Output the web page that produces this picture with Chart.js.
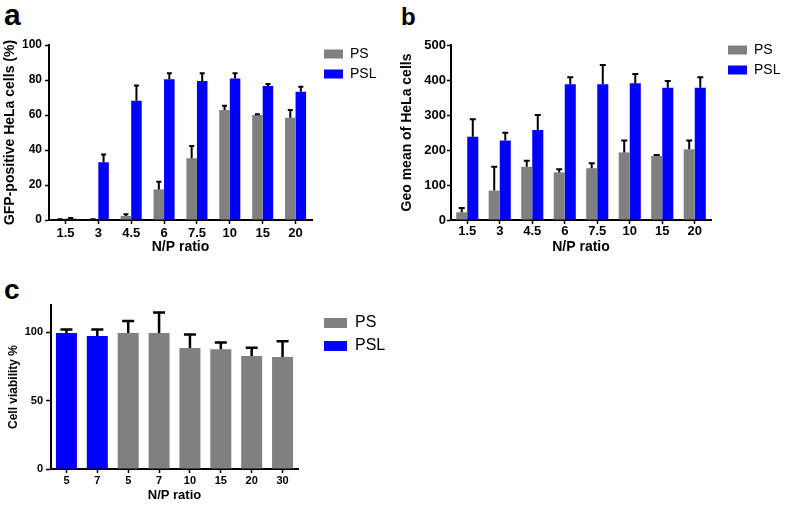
<!DOCTYPE html>
<html>
<head>
<meta charset="utf-8">
<script src="https://cdn.jsdelivr.net/npm/chart.js@4.4.1/dist/chart.umd.min.js"></script>
<style>
  body { margin: 0; background: #fff; }
  #page { position: relative; width: 787px; height: 511px; overflow: hidden; }
  canvas { position: absolute; }
  .tag { position: absolute; font-family: "Liberation Sans", Arial, sans-serif; font-weight: bold; color: #000; }
</style>
</head>
<body>
<div id="page">
  <div class="tag" style="left:4px;top:0px;font-size:30px;line-height:30px;">a</div>
  <div class="tag" style="left:401px;top:5px;font-size:24px;line-height:24px;">b</div>
  <div class="tag" style="left:4px;top:276px;font-size:28px;line-height:28px;">c</div>
  <canvas id="chartA" width="390" height="260" style="left:0;top:0;"></canvas>
  <canvas id="chartB" width="397" height="260" style="left:390px;top:0;"></canvas>
  <canvas id="chartC" width="420" height="241" style="left:0;top:270px;"></canvas>
</div>
<script>
// ---- data ----
const ratiosAB = ['1.5', '3', '4.5', '6', '7.5', '10', '15', '20'];

// panel a: GFP-positive HeLa cells (%)
const psA = [0.3, 0.3, 2.3, 17.5, 35.3, 62.9, 60, 58.5];
const psAErr = [0.2, 0.2, 1, 4.4, 7, 2.4, 0.5, 4.4];
const pslA = [0.8, 33, 68.2, 80.4, 79.4, 80.8, 76.6, 73.3];
const pslAErr = [0.3, 4.5, 8.6, 3.4, 4.4, 3, 1.1, 2.9];

// panel b: geo mean of HeLa cells
const psB = [22, 84, 152, 136, 148, 193, 183, 202];
const psBErr = [12, 68, 17, 9, 14, 34, 3, 25];
const pslB = [238, 227, 257, 388, 388, 391, 378, 378];
const pslBErr = [50, 22, 43, 20, 55, 26, 19, 30];

// panel c: cell viability (first two bars PSL, rest PS)
const ratiosC = ['5', '7', '5', '7', '10', '15', '20', '30'];
const pslC = [99.5, 97.3, null, null, null, null, null, null];
const pslCErr = [2.5, 4.7, null, null, null, null, null, null];
const psC = [null, null, 99.5, 99.5, 88.5, 87.6, 82.7, 82];
const psCErr = [null, null, 8.8, 15, 10, 5, 6.1, 11.4];

const GRAY = '#808080';
const BLUE = '#0000ff';

Chart.defaults.font.family = '"Liberation Sans", Arial, sans-serif';
Chart.defaults.color = '#000';
Chart.defaults.animation = false;

// upper error bars, drawn from the y scale
const errorBarPlugin = {
    id: 'errorBars',
    afterDatasetsDraw(chart, args, opts) {
        const ctx = chart.ctx;
        const yScale = chart.scales.y;
        ctx.save();
        ctx.strokeStyle = '#000';
        ctx.lineWidth = opts.width;
        chart.data.datasets.forEach((ds, di) => {
            const meta = chart.getDatasetMeta(di);
            if (!ds.errorBars || meta.hidden) return;
            meta.data.forEach((bar, i) => {
                const v = ds.data[i];
                const e = ds.errorBars[i];
                if (v == null || e == null) return;
                const yTop = yScale.getPixelForValue(v + e);
                ctx.beginPath();
                ctx.moveTo(bar.x, bar.y);
                ctx.lineTo(bar.x, yTop);
                ctx.moveTo(bar.x - opts.cap, yTop);
                ctx.lineTo(bar.x + opts.cap, yTop);
                ctx.stroke();
            });
        });
        ctx.restore();
    }
};

// put the legend at a fixed spot outside the plot
const legendSpot = {
    id: 'legendSpot',
    afterLayout(chart, args, opts) {
        const lg = chart.legend;
        if (!lg) return;
        const w = lg.width, h = lg.height;
        lg.left = opts.x;
        lg.top = opts.y;
        lg.right = opts.x + w;
        lg.bottom = opts.y + h;
    }
};

function makeScales(o) {
    return {
        x: {
            offset: true,
            ticks: { font: { size: o.xTickSize, weight: 'bold' }, padding: o.xTickPad, maxRotation: 0, autoSkip: false },
            grid: { offset: false, drawOnChartArea: false, tickLength: 4, tickWidth: 1.5, tickColor: '#000' },
            border: { color: '#000', width: 2 },
            title: { display: true, text: 'N/P ratio', font: { size: o.xTitleSize, weight: 'bold' }, padding: { top: 0, bottom: o.xTitlePad } },
            afterFit: s => { s.height = o.xHeight; }
        },
        y: {
            min: 0,
            max: o.yMax,
            ticks: { stepSize: o.yStep, font: { size: o.yTickSize, weight: 'bold' }, padding: o.yTickPad },
            grid: { drawOnChartArea: false, tickLength: o.yTickLen, tickWidth: 1.5, tickColor: '#000' },
            border: { color: '#000', width: 2 },
            title: { display: true, text: o.yTitle, font: { size: o.yTitleSize, weight: 'bold' }, padding: { top: o.yTitlePad, bottom: 0 } },
            afterBuildTicks: s => { s.ticks = s.ticks.filter(t => t.value % o.yStep === 0); },
            afterFit: s => { s.width = o.yWidth; }
        }
    };
}

function legendOpts(boxW, boxH, pad, size) {
    return {
        position: 'chartArea',
        align: 'start',
        labels: { boxWidth: boxW, boxHeight: boxH, padding: pad, font: { size: size }, color: '#000' }
    };
}

// panel a
new Chart(document.getElementById('chartA'), {
    type: 'bar',
    data: {
        labels: ratiosAB,
        datasets: [
            { label: 'PS', data: psA, errorBars: psAErr, backgroundColor: GRAY, borderWidth: 0 },
            { label: 'PSL', data: pslA, errorBars: pslAErr, backgroundColor: BLUE, borderWidth: 0 }
        ]
    },
    options: {
        responsive: false,
        categoryPercentage: 0.64,
        barPercentage: 1,
        layout: { padding: { top: 45, right: 78, bottom: 0, left: 0 } },
        plugins: {
            legend: legendOpts(19, 9, 6, 14),
            legendSpot: { x: 318, y: 41 },
            tooltip: { enabled: false },
            errorBars: { width: 2, cap: 2.5 }
        },
        scales: makeScales({
            xTickSize: 13, xTickPad: 2, xTitleSize: 14, xTitlePad: 4, xHeight: 40,
            yMax: 100, yStep: 20, yTickSize: 12, yTickPad: 3, yTickLen: 4,
            yTitle: 'GFP-positive HeLa cells (%)', yTitleSize: 14, yTitlePad: 2, yWidth: 49
        })
    },
    plugins: [errorBarPlugin, legendSpot]
});

// panel b
new Chart(document.getElementById('chartB'), {
    type: 'bar',
    data: {
        labels: ratiosAB,
        datasets: [
            { label: 'PS', data: psB, errorBars: psBErr, backgroundColor: GRAY, borderWidth: 0 },
            { label: 'PSL', data: pslB, errorBars: pslBErr, backgroundColor: BLUE, borderWidth: 0 }
        ]
    },
    options: {
        responsive: false,
        categoryPercentage: 0.68,
        barPercentage: 1,
        layout: { padding: { top: 45, right: 76, bottom: 0, left: 0 } },
        plugins: {
            legend: legendOpts(19, 9, 6, 14),
            legendSpot: { x: 332, y: 37 },
            tooltip: { enabled: false },
            errorBars: { width: 2, cap: 3 }
        },
        scales: makeScales({
            xTickSize: 13, xTickPad: 0, xTitleSize: 14, xTitlePad: 4, xHeight: 40,
            yMax: 500, yStep: 100, yTickSize: 13, yTickPad: 1, yTickLen: 4,
            yTitle: 'Geo mean of HeLa cells', yTitleSize: 14, yTitlePad: 9, yWidth: 61
        })
    },
    plugins: [errorBarPlugin, legendSpot]
});

// panel c
new Chart(document.getElementById('chartC'), {
    type: 'bar',
    data: {
        labels: ratiosC,
        datasets: [
            { label: 'PS', data: psC, errorBars: psCErr, backgroundColor: GRAY, borderWidth: 0, grouped: false },
            { label: 'PSL', data: pslC, errorBars: pslCErr, backgroundColor: BLUE, borderWidth: 0, grouped: false }
        ]
    },
    options: {
        responsive: false,
        categoryPercentage: 0.68,
        barPercentage: 1,
        layout: { padding: { top: 35, right: 122, bottom: 0, left: 0 } },
        plugins: {
            legend: legendOpts(23, 10, 7, 16),
            legendSpot: { x: 317, y: 38 },
            tooltip: { enabled: false },
            errorBars: { width: 2.5, cap: 6 }
        },
        scales: makeScales({
            xTickSize: 11, xTickPad: 1, xTitleSize: 13, xTitlePad: 8, xHeight: 42,
            yMax: 120, yStep: 50, yTickSize: 11, yTickPad: 3, yTickLen: 5,
            yTitle: 'Cell viability %', yTitleSize: 12, yTitlePad: 6, yWidth: 51
        })
    },
    plugins: [errorBarPlugin, legendSpot]
});
</script>
</body>
</html>
